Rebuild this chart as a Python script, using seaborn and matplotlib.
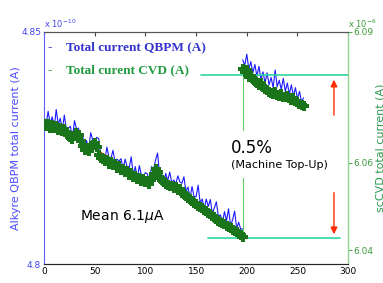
import numpy as np
import pandas as pd
import seaborn as sns
import matplotlib
matplotlib.use('Agg')
import matplotlib.pyplot as plt

# --- data (QBPM in 1e-10 A, CVD in 1e-6 A) ---
x_seg1 = list(range(0, 197, 2))
x_seg2 = list(range(196, 257, 2))

qbpm_seg1 = [4.8317, 4.8301, 4.8329, 4.8303, 4.8317, 4.8293, 4.8333, 4.8301, 4.8314, 4.8288,
             4.8321, 4.8290, 4.8292, 4.8297, 4.8270, 4.8309, 4.8291, 4.8293, 4.8263, 4.8277,
             4.8254, 4.8266, 4.8245, 4.8283, 4.8268, 4.8265, 4.8273, 4.8270, 4.8233, 4.8238,
             4.8224, 4.8252, 4.8230, 4.8228, 4.8245, 4.8220, 4.8226, 4.8222, 4.8227, 4.8205,
             4.8226, 4.8209, 4.8207, 4.8231, 4.8192, 4.8210, 4.8184, 4.8212, 4.8192, 4.8188,
             4.8197, 4.8194, 4.8174, 4.8210, 4.8204, 4.8224, 4.8239, 4.8191, 4.8195, 4.8176,
             4.8195, 4.8180, 4.8198, 4.8175, 4.8181, 4.8173, 4.8190, 4.8177, 4.8174, 4.8188,
             4.8156, 4.8166, 4.8143, 4.8167, 4.8145, 4.8145, 4.8170, 4.8132, 4.8140, 4.8119,
             4.8140, 4.8124, 4.8139, 4.8109, 4.8121, 4.8134, 4.8102, 4.8106, 4.8090, 4.8113,
             4.8093, 4.8119, 4.8083, 4.8095, 4.8114, 4.8077, 4.8090, 4.8075, 4.8076]
qbpm_seg2 = [4.8440, 4.8428, 4.8452, 4.8420, 4.8436, 4.8412, 4.8430, 4.8404, 4.8426, 4.8398,
             4.8414, 4.8390, 4.8412, 4.8386, 4.8402, 4.8380, 4.8418, 4.8382, 4.8396, 4.8376,
             4.8400, 4.8372, 4.8390, 4.8366, 4.8386, 4.8362, 4.8380, 4.8356, 4.8372, 4.8350,
             4.8358]

cvd_seg1 = [6.0690, 6.0684, 6.0688, 6.0681, 6.0686, 6.0679, 6.0684, 6.0676, 6.0680, 6.0672,
            6.0677, 6.0670, 6.0664, 6.0660, 6.0655, 6.0662, 6.0668, 6.0664, 6.0650, 6.0638,
            6.0630, 6.0633, 6.0628, 6.0638, 6.0642, 6.0646, 6.0637, 6.0618, 6.0612, 6.0608,
            6.0604, 6.0607, 6.0598, 6.0601, 6.0594, 6.0597, 6.0589, 6.0592, 6.0584, 6.0586,
            6.0578, 6.0581, 6.0573, 6.0576, 6.0568, 6.0570, 6.0563, 6.0566, 6.0559, 6.0562,
            6.0555, 6.0558, 6.0552, 6.0560, 6.0575, 6.0586, 6.0580, 6.0566, 6.0560, 6.0556,
            6.0551, 6.0549, 6.0546, 6.0548, 6.0542, 6.0544, 6.0537, 6.0539, 6.0532, 6.0528,
            6.0524, 6.0519, 6.0516, 6.0512, 6.0509, 6.0505, 6.0502, 6.0498, 6.0496, 6.0491,
            6.0489, 6.0485, 6.0482, 6.0478, 6.0475, 6.0471, 6.0467, 6.0464, 6.0461, 6.0459,
            6.0455, 6.0453, 6.0450, 6.0447, 6.0444, 6.0441, 6.0438, 6.0435, 6.0431]
cvd_seg2 = [6.0815, 6.0808, 6.0812, 6.0797, 6.0800, 6.0792, 6.0788, 6.0783, 6.0779, 6.0782,
            6.0774, 6.0770, 6.0766, 6.0763, 6.0760, 6.0758, 6.0762, 6.0756, 6.0754, 6.0757,
            6.0752, 6.0750, 6.0753, 6.0748, 6.0745, 6.0748, 6.0741, 6.0739, 6.0736, 6.0733,
            6.0730]

# fit line on QBPM, reference levels and arrows
fit_x = [55, 93]
fit_y = [4.8241, 4.8190]
level_top = 6.0802
level_top_x = [155, 300]
level_bot = 6.0428
level_bot_x = [162, 292]
topup_x = 196
topup_spans = [(6.0802, 6.0676), (6.0566, 6.0428)]
arrow_x = 286
arrow_up = (6.0703, 6.0797)
arrow_down = (6.0538, 6.0430)

x_ticks = [0, 50, 100, 150, 200, 250, 300]
left_ticks = [4.80, 4.85]
left_ticklabels = ['4.8', '4.85']
right_ticks = [6.04, 6.06, 6.09]

BLUE = '#1a1aff'
DKGREEN = '#1a741a'
LTGREEN = '#8fd88f'
CYAN = '#2ed6a0'
RED = '#ff2a00'

sns.set_style('white')
plt.rcParams['font.family'] = ['DejaVu Sans']

fig = plt.figure(figsize=(3.83, 2.83), dpi=100)
ax = fig.add_axes([0.115, 0.067, 0.794, 0.820])
ax2 = ax.twinx()

df1 = pd.DataFrame({'t': x_seg1, 'q': qbpm_seg1, 'c': cvd_seg1})
df2 = pd.DataFrame({'t': x_seg2, 'q': qbpm_seg2, 'c': cvd_seg2})

for d in (df1, df2):
    sns.lineplot(data=d, x='t', y='q', ax=ax, color=BLUE, lw=0.8, legend=False)
ax.plot(fit_x, fit_y, color=RED, lw=1.5, zorder=5)

for d in (df1, df2):
    sns.scatterplot(data=d, x='t', y='c', ax=ax2, color=DKGREEN, marker='P',
                    s=42, linewidth=0, legend=False, zorder=4)
ax2.plot(level_top_x, [level_top, level_top], color=CYAN, lw=1.2)
ax2.plot(level_bot_x, [level_bot, level_bot], color=CYAN, lw=1.2)
for y0, y1 in topup_spans:
    ax2.plot([topup_x, topup_x], [y0, y1], color='#66cc66', lw=0.8)
for y0, y1 in (arrow_up, arrow_down):
    ax2.annotate('', xy=(arrow_x, y1), xytext=(arrow_x, y0),
                 arrowprops=dict(arrowstyle='-|>', color=RED, lw=1.0,
                                 mutation_scale=10))

ax.set_xlim(0, 300)
ax.set_ylim(4.80, 4.85)
ax2.set_ylim(6.0368, 6.09)
ax.set_xticks(x_ticks)
ax.set_yticks(left_ticks)
ax.set_yticklabels(left_ticklabels)
ax2.set_yticks(right_ticks)
ax2.set_yticklabels([f'{v:.2f}' for v in right_ticks])

ax.tick_params(axis='x', direction='in', length=3, labelsize=6.5, top=True,
               pad=2, colors='#444444', labelcolor='black')
ax.tick_params(axis='y', length=0, labelsize=6.5, labelcolor='#4444ee', pad=2)
ax2.tick_params(axis='y', direction='out', length=3, labelsize=6.5,
                colors='#55aa55', labelcolor='#3a9a3a', pad=1)

for s in ('top', 'bottom'):
    ax.spines[s].set_color('#555555')
ax.spines['left'].set_color('#6060ff')
ax2.spines['left'].set_visible(False)
ax2.spines['right'].set_color(LTGREEN)
ax2.spines['top'].set_color('#555555')
for s in ax.spines.values():
    s.set_linewidth(0.8)
for s in ax2.spines.values():
    s.set_linewidth(0.8)

ax.set_xlabel('(s)', fontsize=7, labelpad=6)
ax.set_ylabel('Alkyre QBPM total current (A)', color='#4a4aff', fontsize=8, labelpad=0)
ax2.set_ylabel('scCVD total current (A)', color='#2f9a4f', fontsize=8, labelpad=1)

ax.text(0.0, 1.01, r'x $10^{-10}$', transform=ax.transAxes, color='#4444ee',
        fontsize=6, ha='left', va='bottom')
ax2.text(1.0, 1.01, r'x $10^{-6}$', transform=ax2.transAxes, color='#3a9a3a',
         fontsize=6, ha='left', va='bottom')

serif = ['Liberation Serif', 'DejaVu Serif']
ax2.text(0.01, 0.935, '-', transform=ax2.transAxes, color='#3333cc',
         fontsize=9.5, fontweight='bold', family=serif, va='center')
ax2.text(0.072, 0.935, 'Total current QBPM (A)', transform=ax2.transAxes,
         color='#3333cc', fontsize=9.5, fontweight='bold', family=serif, va='center')
ax2.text(0.01, 0.835, '-', transform=ax2.transAxes, color='#1f9a3f',
         fontsize=9.5, fontweight='bold', family=serif, va='center')
ax2.text(0.072, 0.835, 'Total curent CVD (A)', transform=ax2.transAxes,
         color='#1f9a3f', fontsize=9.5, fontweight='bold', family=serif, va='center')

ax2.text(184, 6.0634, '0.5%', fontsize=12, color='black', ha='left', va='center')
ax2.text(184, 6.0595, '(Machine Top-Up)', fontsize=8, color='black',
         ha='left', va='center')
ax2.text(35, 6.0478, r'Mean 6.1$\mu$A', fontsize=10, color='black',
         ha='left', va='center')

fig.savefig('out.png', dpi=100)
